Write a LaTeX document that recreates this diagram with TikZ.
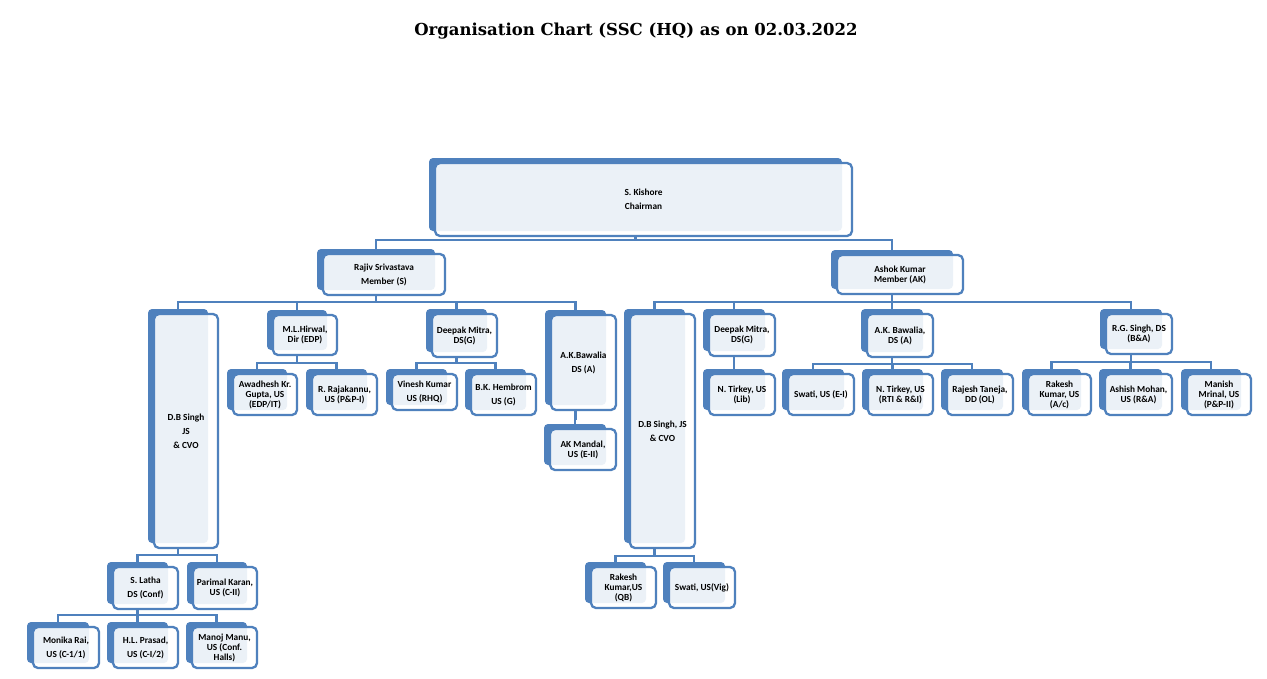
\documentclass[tikz,border=0pt]{standalone}
\usepackage{fontspec}
\newfontfamily\carl{Carlito}
\newfontfamily\ttl{DejaVu Serif}
\definecolor{ssblue}{HTML}{4F81BD}
\pgfdeclarelayer{bg}
\pgfsetlayers{bg,main}
\tikzset{
 backbox/.style={rectangle, rounded corners=4pt, fill=ssblue, inner sep=0pt, outer sep=0pt},
 frontbox/.style={rectangle, rounded corners=5pt, draw=ssblue, line width=2.3pt, fill=white, fill opacity=0.89, draw opacity=1, text opacity=1, inner sep=0pt, outer sep=0pt},
 lbl/.style={align=center, font=\carl\bfseries\fontsize{9.3}{10}\selectfont, text=black, inner sep=0pt},
 loose/.style={font=\carl\bfseries\fontsize{9.3}{14}\selectfont},
 conn/.style={draw=ssblue, line width=2.8pt},
}
\newcommand\card[7][]{%
 \node[backbox, minimum width={#5-#3-4}, minimum height={#6-#4}] (#2) at ({(#3+#5)/2-8},{(#4+#6)/2-5}) {};
 \node[frontbox, minimum width={#5-#3}, minimum height={#6-#4}] (#2-f) at ({(#3+#5)/2},{(#4+#6)/2}) {};
 \node[lbl,#1] (#2-t) at (#2-f.center) {#7};
}
\newcommand\branch[3]{%
 \draw[conn] (#1.south |- #1-f.south) -- (#1.south |- #2);
 \foreach \c in {#3} \draw[conn] (#1.south |- #2) -| (\c.north);
}
\begin{document}
\begin{tikzpicture}[x=1pt,y=-1pt]
\useasboundingbox (0,0) rectangle (1267,678);
\begin{pgfonlayer}{bg}
\fill[white] (0,0) rectangle (1267,678);
\end{pgfonlayer}
\node[font=\ttl\bfseries\fontsize{16.5}{19}\selectfont, inner sep=0pt] (title) at (636,31) {Organisation Chart (SSC (HQ) as on 02.03.2022};

\card[loose]{chair}{435}{163}{852}{236}{S. Kishore\\Chairman}
\card[loose]{raj}{323}{254}{445}{295}{Rajiv Srivastava\\Member (S)}
\card{ashok}{837}{255}{963}{294}{Ashok Kumar\\Member (AK)}
\card[loose]{dbs1}{154}{314}{218}{548}{D.B Singh\\JS\\\& CVO}
\card{mlh}{273}{315}{337}{355}{M.L.Hirwal,\\Dir (EDP)}
\card{dm1}{432}{314}{497}{357}{Deepak Mitra,\\DS(G)}
\card[loose]{akb1}{551}{315}{616}{410}{A.K.Bawalia\\DS (A)}
\card{awd}{233}{374}{297}{415}{Awadhesh Kr.\\Gupta, US\\(EDP/IT)}
\card{raja}{312}{374}{377}{415}{R. Rajakannu,\\US (P\&P-I)}
\card[loose]{vin}{392}{374}{457}{410}{Vinesh Kumar\\US (RHQ)}
\card[loose]{bkh}{471}{374}{536}{415}{B.K. Hembrom\\US (G)}
\card{akm}{550}{429}{616}{470}{AK Mandal,\\US (E-II)}
\card[loose]{lat}{113}{567}{178}{609}{S. Latha\\DS (Conf)}
\card{par}{193}{567}{257}{609}{Parimal Karan,\\US (C-II)}
\card[loose]{mon}{33}{627}{99}{668}{Monika Rai,\\US (C-1/1)}
\card[loose]{hlp}{113}{627}{178}{668}{H.L. Prasad,\\US (C-I/2)}
\card{mnj}{192}{627}{257}{668}{Manoj Manu,\\US (Conf.\\Halls)}
\card[loose]{dbs2}{630}{314}{695}{548}{D.B Singh, JS\\\& CVO}
\card{dm2}{709}{314}{775}{356}{Deepak Mitra,\\DS(G)}
\card{akb2}{867}{314}{933}{357}{A.K. Bawalia,\\DS (A)}
\card{rgs}{1106}{314}{1172}{354}{R.G. Singh, DS\\(B\&A)}
\card{ntl}{709}{374}{775}{415}{N. Tirkey, US\\(Lib)}
\card{swe}{788}{374}{854}{415}{Swati, US (E-I)}
\card{ntr}{868}{374}{933}{415}{N. Tirkey, US\\(RTI \& R\&I)}
\card{rjt}{947}{374}{1013}{415}{Rajesh Taneja,\\DD (OL)}
\card{rka}{1028}{374}{1091}{415}{Rakesh\\Kumar, US\\(A/c)}
\card{ash}{1105}{374}{1172}{415}{Ashish Mohan,\\US (R\&A)}
\card{man}{1187}{374}{1251}{415}{Manish\\Mrinal, US\\(P\&P-II)}
\card{rkq}{591}{567}{656}{608}{Rakesh\\Kumar,US\\(QB)}
\card{swv}{669}{567}{735}{608}{Swati, US(Vig)}

\begin{pgfonlayer}{bg}
\coordinate (bchair) at (0,240);
\coordinate (braj) at (0,302);
\coordinate (bashok) at (0,302);
\coordinate (bmlh) at (0,363);
\coordinate (bdm1) at (0,363);
\coordinate (bakb1) at (0,420);
\coordinate (bdbs1) at (0,555);
\coordinate (blat) at (0,615);
\coordinate (bdbs2) at (0,556);
\coordinate (bdm2) at (0,364);
\coordinate (bakb2) at (0,364);
\coordinate (brgs) at (0,362);
\branch{chair}{bchair}{raj,ashok}
\branch{raj}{braj}{dbs1,mlh,dm1,akb1}
\branch{ashok}{bashok}{dbs2,dm2,akb2,rgs}
\branch{mlh}{bmlh}{awd,raja}
\branch{dm1}{bdm1}{vin,bkh}
\branch{akb1}{bakb1}{akm}
\branch{dbs1}{bdbs1}{lat,par}
\branch{lat}{blat}{mon,hlp,mnj}
\branch{dbs2}{bdbs2}{rkq,swv}
\branch{dm2}{bdm2}{ntl}
\branch{akb2}{bakb2}{swe,ntr,rjt}
\branch{rgs}{brgs}{rka,ash,man}
\end{pgfonlayer}
\end{tikzpicture}
\end{document}
